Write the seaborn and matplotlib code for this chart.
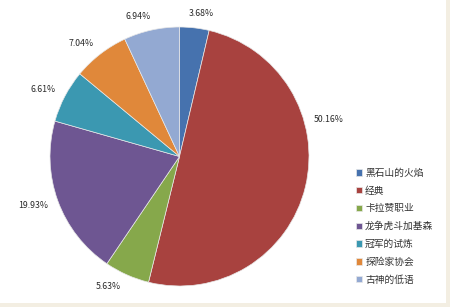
import matplotlib
matplotlib.use("Agg")
import numpy as np
import matplotlib.pyplot as plt
import seaborn as sns
from matplotlib.patches import Rectangle

categories = ["黑石山的火焰", "经典", "卡拉赞职业", "龙争虎斗加基森", "冠军的试炼", "探险家协会", "古神的低语"]
values = [3.68, 50.16, 5.63, 19.93, 6.61, 7.04, 6.94]
colors = ["#4672AE", "#A8423F", "#86A84B", "#6E5692", "#3B98B1", "#E0883A", "#93A9D2"]

sns.set_theme(style="white")
plt.rcParams["font.family"] = ["Noto Sans CJK SC", "DejaVu Sans"]

fig = plt.figure(figsize=(4.5, 3.07), dpi=100)
fig.patch.set_facecolor("#F3EEE2")
fig.patches.append(Rectangle((0, 1 - 303 / 307), 446 / 450, 303 / 307,
                             transform=fig.transFigure, facecolor="white",
                             edgecolor="none", zorder=-10))

r = 129.5
cx, cy = 179.5, 156.5
ax = fig.add_axes([(cx - r) / 450, (307 - cy - r) / 307, 2 * r / 450, 2 * r / 307])
ax.set_facecolor("none")
ax.set_zorder(5)

total = sum(values)
wedges, texts, autotexts = ax.pie(
    values, colors=colors, startangle=90, counterclock=False,
    autopct=lambda p: f"{p * total / 100:.2f}%", pctdistance=1.16,
    wedgeprops=dict(edgecolor="#e8e8e8", linewidth=0.5),
    textprops=dict(fontsize=6.3, color="#2a2a2a"),
)
ax.set_xlim(-1, 1)
ax.set_ylim(-1, 1)
ax.set_aspect("equal")

# Place labels like Excel's "outside end": a fixed gap from the rim to the label box,
# with the small angular nudges Excel's best-fit applies (degrees)
nudge = [-2, 0, -4.5, -1.5, 1.5, 3.5, 4]
fig.canvas.draw()
renderer = fig.canvas.get_renderer()
gap = 9  # px
for i, (w, t) in enumerate(zip(wedges, autotexts)):
    ang = np.deg2rad((w.theta1 + w.theta2) / 2 + nudge[i])
    if i == 1:
        ang = np.deg2rad(14)  # Excel's best-fit moved the large slice's label upward
    bb = t.get_window_extent(renderer)
    half = abs(np.cos(ang)) * bb.width / 2 + abs(np.sin(ang)) * bb.height / 2
    d = (r + gap + half) / r
    t.set_position((d * np.cos(ang), d * np.sin(ang)))

leg = fig.legend(wedges, categories, loc="upper left",
                 bbox_to_anchor=(352 / 450, 1 - 164 / 307),
                 frameon=False, fontsize=7, handlelength=0.65, handleheight=0.65,
                 handletextpad=0.3, labelspacing=0.8, borderaxespad=0)
leg.set_zorder(6)
for t in leg.get_texts():
    t.set_color("#333333")

fig.savefig("out.png", dpi=100, facecolor=fig.get_facecolor())
